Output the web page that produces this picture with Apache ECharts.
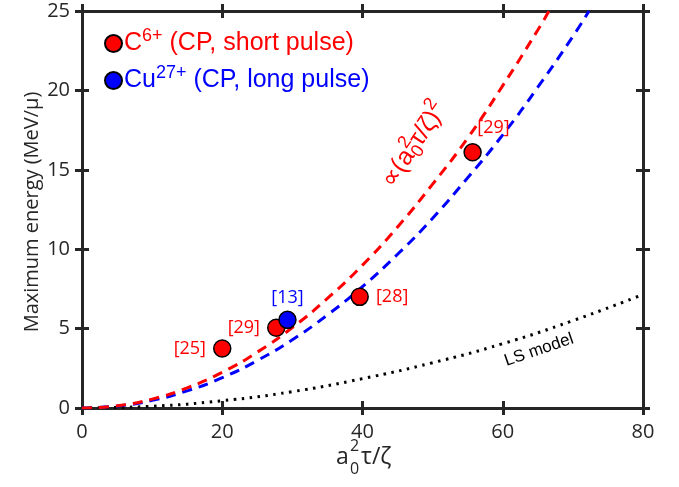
<!DOCTYPE html>
<html>
<head>
<meta charset="utf-8">
<script src="https://cdn.jsdelivr.net/npm/echarts@6/dist/echarts.min.js"></script>
<style>
  html, body { margin: 0; padding: 0; background: #fff; }
  #main { width: 679px; height: 487px; }
</style>
</head>
<body>
<div id="main"></div>
<script>
// values
var xTicks = [0, 20, 40, 60, 80]
var yTicks = [0, 5, 10, 15, 20, 25]

var redCurveX = [0, 5, 10, 15, 20, 25, 30, 35, 40, 45, 50, 55, 60, 65, 66.6]
var redCurveY = [0, 0.14, 0.56, 1.27, 2.25, 3.52, 5.07, 6.9, 9.0, 11.4, 14.1, 17.0, 20.3, 23.8, 25]

var blueCurveX = [0, 5, 10, 15, 20, 25, 30, 35, 40, 45, 50, 55, 60, 65, 70, 72.3]
var blueCurveY = [0, 0.12, 0.48, 1.08, 1.91, 2.99, 4.3, 5.86, 7.65, 9.68, 11.95, 14.5, 17.2, 20.2, 23.4, 25]

var lsX = [0, 10, 20, 30, 40, 50, 60, 70, 80]
var lsY = [0, 0.11, 0.46, 1.03, 1.85, 2.85, 4.05, 5.5, 7.15]

var carbonX = [20, 27.7, 39.6, 55.7]
var carbonY = [3.75, 5.05, 7.0, 16.1]
var carbonRefs = ['[25]', '[29]', '[28]', '[29]']
var carbonLabelPos = ['left', 'left', 'right', [14, -24]]

var copperX = [29.3]
var copperY = [5.55]
var copperRefs = ['[13]']

var axisColor = '#262626'
var RED = '#ff0000'
var BLUE = '#0000ff'

function zip(xs, ys) {
  return xs.map(function (x, i) { return [x, ys[i]] })
}

var chart = echarts.init(document.getElementById('main'))

// each side gets two axes (inside + outside ticks) so ticks cross the frame
function xAx(pos, inside, labels) {
  return {
    type: 'value', min: 0, max: 80, interval: 20, position: pos,
    axisLine: { show: true, onZero: false, lineStyle: { color: axisColor, width: 3 } },
    axisTick: { show: true, inside: inside, length: 7, lineStyle: { color: axisColor, width: 3 } },
    axisLabel: { show: labels, color: axisColor, fontSize: 20, fontFamily: 'Open Sans', margin: 14 },
    splitLine: { show: false }
  }
}
function yAx(pos, inside, labels) {
  return {
    type: 'value', min: 0, max: 25, interval: 5, position: pos,
    axisLine: { show: true, onZero: false, lineStyle: { color: axisColor, width: 3 } },
    axisTick: { show: true, inside: inside, length: 7, lineStyle: { color: axisColor, width: 3 } },
    axisLabel: { show: labels, color: axisColor, fontSize: 20, fontFamily: 'Open Sans', margin: 12 },
    splitLine: { show: false }
  }
}

var option = {
  animation: false,
  backgroundColor: '#fff',
  grid: { left: 82, right: 36, top: 11, bottom: 79 },
  xAxis: [xAx('bottom', false, true), xAx('bottom', true, false), xAx('top', false, false), xAx('top', true, false)],
  yAxis: [yAx('left', false, true), yAx('left', true, false), yAx('right', false, false), yAx('right', true, false)],
  legend: {
    orient: 'vertical',
    left: 99, top: 22,
    itemWidth: 17, itemHeight: 17, itemGap: 8,
    icon: 'circle',
    data: [
      { name: 'carbon', textStyle: { color: RED } },
      { name: 'copper', textStyle: { color: BLUE } }
    ],
    formatter: function (name) {
      if (name === 'carbon') return 'C{sup|6+} (CP, short pulse)'
      return 'Cu{sup|27+} (CP, long pulse)'
    },
    textStyle: {
      fontSize: 25, fontFamily: 'Liberation Sans', padding: [0, 0, 0, -3],
      rich: { sup: { fontSize: 18, verticalAlign: 'top', padding: [0, 0, 15, 0] } }
    }
  },
  series: [
    {
      type: 'line', name: 'LS', data: zip(lsX, lsY), showSymbol: false, smooth: true,
      lineStyle: { color: '#000', width: 3, type: [2.5, 5.5] }, silent: true
    },
    {
      type: 'line', name: 'blueCurve', data: zip(blueCurveX, blueCurveY), showSymbol: false, smooth: true,
      lineStyle: { color: BLUE, width: 3, type: [10, 7] }, silent: true
    },
    {
      type: 'line', name: 'redCurve', data: zip(redCurveX, redCurveY), showSymbol: false, smooth: true,
      lineStyle: { color: RED, width: 3, type: [10, 7] }, silent: true
    },
    {
      type: 'scatter', name: 'carbon', symbolSize: 17,
      itemStyle: { color: RED, borderColor: '#000', borderWidth: 1.5, opacity: 1 },
      data: carbonX.map(function (x, i) {
        return {
          value: [x, carbonY[i]],
          label: { show: true, formatter: carbonRefs[i], position: carbonLabelPos[i], distance: 7 }
        }
      }),
      label: { color: RED, fontSize: 18, fontFamily: 'Open Sans' },
      z: 5
    },
    {
      type: 'scatter', name: 'copper', symbolSize: 17,
      itemStyle: { color: BLUE, borderColor: '#000', borderWidth: 1.5, opacity: 1 },
      data: copperX.map(function (x, i) {
        return {
          value: [x, copperY[i]],
          label: { show: true, formatter: copperRefs[i], position: 'top', distance: 4 }
        }
      }),
      label: { color: BLUE, fontSize: 18, fontFamily: 'Open Sans' },
      z: 6
    }
  ],
  graphic: [
    {
      type: 'text', x: 22, y: 212, rotation: Math.PI / 2,
      style: {
        text: 'Maximum energy (MeV/\u03bc)', fill: axisColor, fontSize: 20, fontFamily: 'Open Sans',
        align: 'center', verticalAlign: 'top'
      }
    },
    { type: 'text', x: 336, y: 446, style: { text: 'a', fill: axisColor, fontSize: 23, fontFamily: 'Open Sans' } },
    { type: 'text', x: 350, y: 438, style: { text: '2', fill: axisColor, fontSize: 16, fontFamily: 'Open Sans' } },
    { type: 'text', x: 350, y: 461, style: { text: '0', fill: axisColor, fontSize: 16, fontFamily: 'Open Sans' } },
    { type: 'text', x: 361, y: 446, style: { text: '\u03c4/\u03b6', fill: axisColor, fontSize: 23, fontFamily: 'Open Sans' } },
    {
      type: 'text', x: 414, y: 145, rotation: 56 * Math.PI / 180,
      style: {
        text: '\u221d(a{s|2}{b|0}\u03c4/\u03b6){p|2}', fill: RED, fontSize: 25, fontFamily: 'Liberation Sans',
        align: 'center', verticalAlign: 'middle',
        rich: {
          s: { fontSize: 18, fill: RED, padding: [0, 0, 18, 0] },
          b: { fontSize: 18, fill: RED, padding: [14, 0, 0, -10] },
          p: { fontSize: 18, fill: RED, padding: [0, 0, 18, 0] }
        }
      }
    },
    {
      type: 'text', x: 539, y: 350, rotation: 19 * Math.PI / 180,
      style: { text: 'LS model', fill: '#000', fontSize: 17, fontFamily: 'Liberation Sans', align: 'center', verticalAlign: 'middle' }
    }
  ]
}

chart.setOption(option)
</script>
</body>
</html>
